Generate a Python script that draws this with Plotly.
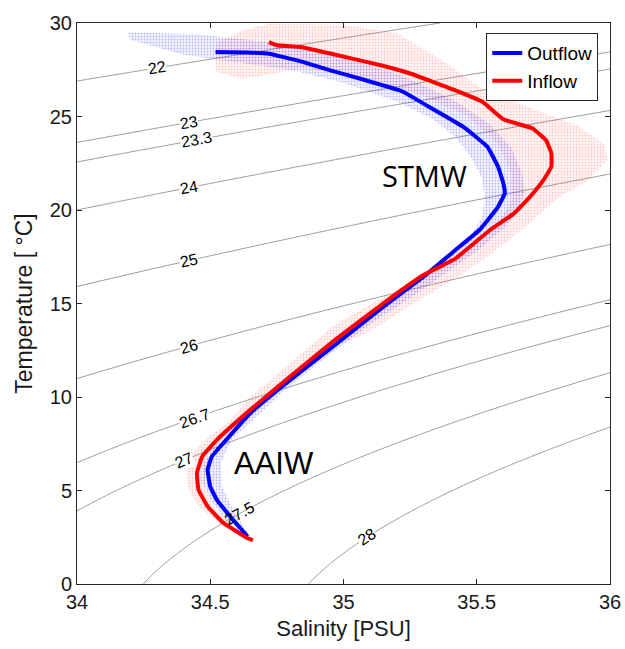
import numpy as np
import plotly.graph_objects as go

# ---------------- data ----------------
# Mean profiles (Salinity [PSU], Temperature [degC])
out_S = [34.52, 34.64, 34.72, 34.84, 34.95, 35.08, 35.22, 35.32, 35.45, 35.54, 35.58,
         35.60, 35.605, 35.58, 35.51, 35.42, 35.30, 35.15, 34.96, 34.77, 34.65, 34.56,
         34.506, 34.49, 34.50, 34.525, 34.575, 34.64]
out_T = [28.45, 28.42, 28.36, 27.95, 27.47, 26.95, 26.35, 25.52, 24.44, 23.38, 22.31,
         21.42, 20.89, 20.17, 18.93, 17.86, 16.43, 14.83, 12.69, 10.56, 9.13, 7.71,
         6.82, 6.11, 5.21, 4.50, 3.61, 2.54]

in_S = [34.72, 34.75, 34.84, 34.95, 35.14, 35.25, 35.42, 35.52, 35.60, 35.71, 35.76, 35.78,
        35.78, 35.75, 35.70, 35.64, 35.55, 35.42, 35.30, 35.15, 34.96, 34.77, 34.65,
        34.525, 34.47, 34.45, 34.456, 34.49, 34.55, 34.64, 34.66]
in_T = [28.98, 28.81, 28.72, 28.37, 27.74, 27.30, 26.40, 25.80, 24.85, 24.36, 23.73, 23.02,
        22.31, 21.60, 20.71, 19.82, 18.93, 17.40, 16.52, 15.01, 12.96, 10.74, 9.31,
        7.71, 6.82, 5.93, 5.04, 4.15, 3.26, 2.45, 2.35]

# Envelope of the Outflow scatter cloud (outer edge down, inner edge back up)
out_cloud_S = [34.19, 34.45, 34.70, 34.95, 35.20, 35.40, 35.55, 35.63, 35.67, 35.68, 35.66,
               35.60, 35.50, 35.38, 35.25, 35.10, 34.97, 34.79, 34.66, 34.58, 34.54, 34.545,
               34.59, 34.65,
               34.63, 34.56, 34.50, 34.47, 34.475, 34.53, 34.62, 34.76, 34.93, 35.10, 35.25,
               35.38, 35.47, 35.52, 35.53, 35.52, 35.48, 35.42, 35.33, 35.20, 35.00, 34.80,
               34.60, 34.40, 34.20]
out_cloud_T = [29.50, 29.40, 29.00, 28.30, 27.30, 26.00, 24.60, 23.30, 22.00, 21.00, 20.00,
               19.00, 17.80, 16.60, 15.30, 13.90, 12.50, 10.50, 8.80, 7.70, 6.50, 5.20,
               3.80, 2.55,
               2.40, 3.40, 4.50, 5.50, 6.50, 7.50, 8.70, 10.30, 12.20, 14.10, 15.80,
               17.30, 18.50, 19.60, 20.60, 21.70, 22.80, 23.90, 24.90, 25.80, 26.80, 27.50,
               27.90, 28.30, 29.10]

# Envelope of the Inflow scatter cloud
in_cloud_S = [34.52, 34.62, 34.72, 35.00, 35.20, 35.36, 35.52, 35.71, 35.88, 35.98, 35.99,
              35.92, 35.81, 35.73, 35.64, 35.52, 35.38, 35.24, 35.10, 34.94, 34.82, 34.69,
              34.585, 34.51, 34.48, 34.48, 34.52, 34.58, 34.67,
              34.64, 34.54, 34.46, 34.42, 34.41, 34.42, 34.48, 34.57, 34.65, 34.77, 34.96,
              35.12, 35.30, 35.45, 35.57, 35.63, 35.63, 35.58, 35.47, 35.30, 35.10, 34.85,
              34.62, 34.52]
in_cloud_T = [28.90, 29.60, 29.95, 29.90, 29.45, 28.10, 26.50, 25.40, 24.50, 23.50, 22.70,
              21.60, 20.70, 19.70, 18.60, 17.30, 16.00, 14.80, 13.50, 12.50, 11.10, 9.60,
              8.20, 7.10, 6.00, 5.00, 4.00, 3.10, 2.30,
              2.40, 3.20, 4.10, 5.00, 5.90, 6.80, 7.70, 8.70, 10.00, 11.45, 13.80,
              15.10, 16.50, 17.70, 19.00, 20.50, 22.00, 23.50, 25.00, 26.10, 27.00, 27.60,
              27.00, 27.40]

# Potential density anomaly contour levels and the salinity where each is labelled
sigma_levels = [22, 23, 23.3, 24, 25, 26, 26.7, 27, 27.5, 28]
label_S = [34.30, 34.42, 34.45, 34.42, 34.42, 34.42, 34.44, 34.40, 34.61, 35.09]
label_text = ["22", "23", "23.3", "24", "25", "26", "26.7", "27", "27.5", "28"]

x_ticks = [34, 34.5, 35, 35.5, 36]
y_ticks = [0, 5, 10, 15, 20, 25, 30]


# ---------------- seawater density (UNESCO 1983, p = 0) ----------------
def sigma0(S, T):
    S = np.asarray(S, dtype=float)
    T = np.asarray(T, dtype=float)
    rw = (999.842594 + 6.793952e-2 * T - 9.095290e-3 * T**2 + 1.001685e-4 * T**3
          - 1.120083e-6 * T**4 + 6.536332e-9 * T**5)
    A = 0.824493 - 4.0899e-3 * T + 7.6438e-5 * T**2 - 8.2467e-7 * T**3 + 5.3875e-9 * T**4
    B = -5.72466e-3 + 1.0227e-4 * T - 1.6546e-6 * T**2
    C = 4.8314e-4
    return rw + A * S + B * S**1.5 + C * S**2 - 1000.0


def temp_on_level(S, level):
    lo, hi = -1.0, 40.0
    for _ in range(60):
        mid = 0.5 * (lo + hi)
        if sigma0(S, mid) > level:
            lo = mid
        else:
            hi = mid
    return 0.5 * (lo + hi)


s_grid = np.linspace(34, 36, 201)
t_grid = np.linspace(0, 30, 301)
SS, TT = np.meshgrid(s_grid, t_grid)
ZZ = sigma0(SS, TT)

# layout geometry
W, H = 625, 649
ML, MR, MT, MB = 77, 15, 23, 65
px_per_S = (W - ML - MR) / 2.0
px_per_T = (H - MT - MB) / 30.0

fig = go.Figure()

for lv in sigma_levels:
    fig.add_trace(go.Contour(
        x=s_grid, y=t_grid, z=ZZ,
        contours=dict(start=lv, end=lv, size=1, coloring="none", showlabels=False),
        line=dict(color="#808080", width=0.8),
        showscale=False, hoverinfo="skip", showlegend=False,
    ))

# scatter clouds
fig.add_trace(go.Scatter(
    x=in_cloud_S, y=in_cloud_T, mode="lines", fill="toself",
    line=dict(width=0, color="rgba(255,0,0,0)"),
    fillcolor="rgba(255,120,120,0.08)",
    fillpattern=dict(shape=".", fgcolor="rgba(255,40,40,0.45)", size=3, solidity=0.3,
                     bgcolor="rgba(255,150,150,0.08)"),
    showlegend=False, hoverinfo="skip",
))
fig.add_trace(go.Scatter(
    x=out_cloud_S, y=out_cloud_T, mode="lines", fill="toself",
    line=dict(width=0, color="rgba(0,0,255,0)"),
    fillcolor="rgba(80,80,255,0.08)",
    fillpattern=dict(shape=".", fgcolor="rgba(0,0,255,0.5)", size=3, solidity=0.3,
                     bgcolor="rgba(120,120,255,0.08)"),
    showlegend=False, hoverinfo="skip",
))

# mean lines
fig.add_trace(go.Scatter(x=out_S, y=out_T, mode="lines", name="Outflow",
                         line=dict(color="#0000FF", width=4, shape="spline", smoothing=0.3)))
fig.add_trace(go.Scatter(x=in_S, y=in_T, mode="lines", name="Inflow",
                         line=dict(color="#FF0000", width=4, shape="spline", smoothing=0.3)))

# contour labels
annotations = []
for lv, s, txt in zip(sigma_levels, label_S, label_text):
    t = temp_on_level(s, lv)
    ds = 0.01
    dT = temp_on_level(s + ds, lv) - temp_on_level(s - ds, lv)
    slope = dT / (2 * ds)
    ang = -np.degrees(np.arctan(slope * px_per_T / px_per_S))
    annotations.append(dict(
        x=s, y=t, xref="x", yref="y", text=txt, showarrow=False,
        textangle=ang, font=dict(family="Liberation Sans, Arial", size=16, color="black"),
        bgcolor="white" if txt != "27.5" else "rgba(0,0,0,0)", borderpad=0,
    ))

annotations.append(dict(x=35.305, y=21.86, xref="x", yref="y", text="STMW", showarrow=False,
                        font=dict(family="Open Sans", size=29, color="black")))
annotations.append(dict(x=34.74, y=6.42, xref="x", yref="y", text="AAIW", showarrow=False,
                        font=dict(family="Liberation Sans, Arial", size=31, color="black")))

axis_common = dict(
    showgrid=False, zeroline=False, showline=True, linecolor="#262626", linewidth=1,
    mirror="ticks", ticks="inside", ticklen=5, tickcolor="#262626", tickwidth=1,
    tickfont=dict(family="Liberation Sans, Arial", size=20, color="#1a1a1a"),
)

fig.update_layout(
    width=W, height=H,
    margin=dict(l=ML, r=MR, t=MT, b=MB, autoexpand=False),
    plot_bgcolor="white", paper_bgcolor="white",
    xaxis=dict(range=[34, 36], tickvals=x_ticks, ticktext=[str(v) for v in x_ticks],
               title=dict(text="Salinity [PSU]", standoff=8,
                          font=dict(family="Liberation Sans, Arial", size=22, color="#1a1a1a")),
               **axis_common),
    yaxis=dict(range=[0, 30], tickvals=y_ticks, ticktext=[str(v) for v in y_ticks],
               title=dict(text="Temperature [ °C]", standoff=10,
                          font=dict(family="Liberation Sans, Arial", size=23, color="#1a1a1a")),
               **axis_common),
    legend=dict(x=0.978, y=0.982, xanchor="right", yanchor="top",
                bgcolor="white", bordercolor="#262626", borderwidth=1,
                font=dict(family="Liberation Sans, Arial", size=19, color="black"),
                tracegroupgap=0, itemwidth=30),
    annotations=annotations,
)

fig.write_html("out.html")
